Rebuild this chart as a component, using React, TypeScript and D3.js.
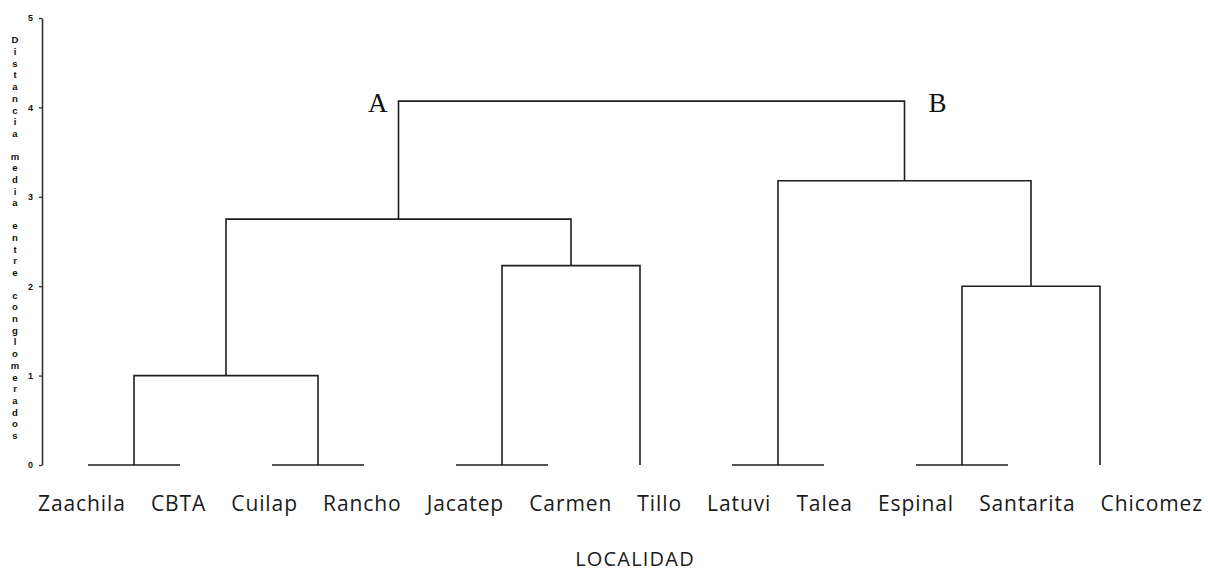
import React, { useEffect, useRef } from 'react';
import * as d3 from 'd3';

// leaves, left to right
const leaves = ['Zaachila', 'CBTA', 'Cuilap', 'Rancho', 'Jacatep', 'Carmen', 'Tillo', 'Latuvi', 'Talea', 'Espinal', 'Santarita', 'Chicomez'];

// merges: [left, right, height]; ids are leaf names or earlier merge ids (m0, m1 ...)
const merges: [string, string, number][] = [
  ['Zaachila', 'CBTA', 0],
  ['Cuilap', 'Rancho', 0],
  ['Jacatep', 'Carmen', 0],
  ['Latuvi', 'Talea', 0],
  ['Espinal', 'Santarita', 0],
  ['m0', 'm1', 1.0],
  ['m4', 'Chicomez', 2.0],
  ['m2', 'Tillo', 2.23],
  ['m5', 'm7', 2.75],
  ['m3', 'm6', 3.18],
  ['m8', 'm9', 4.07],
];

const yTicks = [0, 1, 2, 3, 4, 5];
const groupLabels = ['A', 'B'];
const yTitle = 'Distancia media entre conglomerados';
const xTitle = 'LOCALIDAD';

const W = 1208;
const H = 571;

export default function App() {
  const ref = useRef<SVGSVGElement>(null);

  useEffect(() => {
    const svg = d3.select(ref.current);
    svg.selectAll('*').remove();

    const x = d3.scalePoint<string>().domain(leaves).range([88, 1100]);
    const y = d3.scaleLinear().domain([0, 5]).range([465, 18]);

    // node positions
    const pos: Record<string, { x: number; h: number }> = {};
    leaves.forEach((l) => { pos[l] = { x: x(l) as number, h: 0 }; });
    merges.forEach(([a, b, h], i) => {
      pos[`m${i}`] = { x: (pos[a].x + pos[b].x) / 2, h };
    });

    const ink = '#1e1e1e';

    // y axis
    const axis = svg.append('g')
      .attr('transform', 'translate(42,0)')
      .call(d3.axisLeft(y).tickValues(yTicks).tickSize(3).tickSizeOuter(0).tickPadding(6).tickFormat(d3.format('d')));
    axis.select('.domain').attr('stroke', '#333').attr('stroke-width', 1.6);
    axis.selectAll('.tick line').attr('stroke', '#333').attr('stroke-width', 1.3);
    axis.selectAll('.tick text')
      .attr('font-family', 'Liberation Sans, Arial, sans-serif')
      .attr('font-size', 9)
      .attr('font-weight', 'bold')
      .attr('fill', '#111');

    // stacked y title
    let ty = 40;
    const titleG = svg.append('g');
    yTitle.split('').forEach((ch, i) => {
      if (ch === ' ') { ty += 11; return; }
      titleG.append('text')
        .attr('x', 15)
        .attr('y', ty)
        .attr('dy', '0.35em')
        .attr('text-anchor', 'middle')
        .attr('font-family', 'Liberation Sans, Arial, sans-serif')
        .attr('font-size', 9.5)
        .attr('font-weight', 'bold')
        .attr('fill', '#111')
        .text(ch);
      if (i < yTitle.length - 1) ty += 11.7;
    });

    // dendrogram links
    const links = svg.append('g')
      .attr('fill', 'none')
      .attr('stroke', ink)
      .attr('stroke-width', 1.6)
      .attr('stroke-linejoin', 'miter');
    merges.forEach(([a, b, h]) => {
      const pa = pos[a];
      const pb = pos[b];
      const path = d3.path();
      path.moveTo(pa.x, y(pa.h));
      path.lineTo(pa.x, y(h));
      path.lineTo(pb.x, y(h));
      path.lineTo(pb.x, y(pb.h));
      links.append('path').attr('d', path.toString());
    });

    // group labels A / B next to root
    const root = merges[merges.length - 1];
    const rootY = y(root[2]);
    svg.append('text')
      .attr('x', pos[root[0]].x - 11)
      .attr('y', rootY + 11)
      .attr('text-anchor', 'end')
      .attr('font-family', 'Liberation Serif, Times New Roman, serif')
      .attr('font-size', 27)
      .attr('fill', '#111')
      .text(groupLabels[0]);
    svg.append('text')
      .attr('x', pos[root[1]].x + 24)
      .attr('y', rootY + 11)
      .attr('text-anchor', 'start')
      .attr('font-family', 'Liberation Serif, Times New Roman, serif')
      .attr('font-size', 27)
      .attr('fill', '#111')
      .text(groupLabels[1]);

    // leaf labels: typed as one row under the tree, spread from 38 to 1203
    const labels = svg.append('g')
      .selectAll('text')
      .data(leaves)
      .enter()
      .append('text')
      .attr('y', 511)
      .attr('font-family', 'Open Sans, sans-serif')
      .attr('font-size', 21)
      .attr('letter-spacing', 0.9)
      .attr('fill', '#1a1a1a')
      .text((d) => d);
    const widths: number[] = [];
    labels.each(function () { widths.push((this as SVGTextElement).getComputedTextLength()); });
    const gap = (1203 - 38 - d3.sum(widths)) / (leaves.length - 1);
    let lx = 38;
    labels.each(function (_d, i) {
      d3.select(this).attr('x', lx);
      lx += widths[i] + gap;
    });

    svg.append('text')
      .attr('x', 635)
      .attr('y', 566)
      .attr('text-anchor', 'middle')
      .attr('font-family', 'Open Sans, sans-serif')
      .attr('font-size', 20)
      .attr('letter-spacing', 1.2)
      .attr('fill', '#1a1a1a')
      .text(xTitle);
  }, []);

  return (
    <svg
      ref={ref}
      width={W}
      height={H}
      style={{ position: 'absolute', left: 0, top: 0, background: '#fff' }}
    />
  );
}
